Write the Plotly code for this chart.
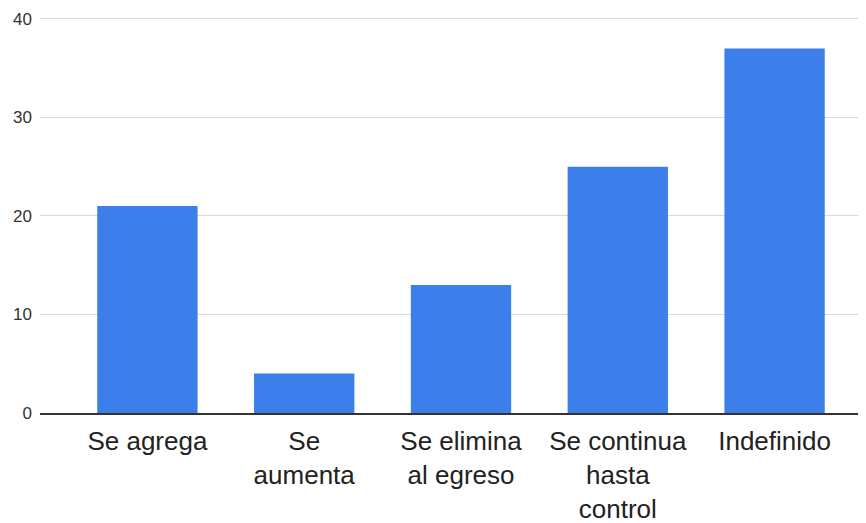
import plotly.graph_objects as go

categories = ["Se agrega", "Se<br>aumenta", "Se elimina<br>al egreso", "Se continua<br>hasta<br>control", "Indefinido"]
values = [21, 4, 13, 25, 37]
y_ticks = [0, 10, 20, 30, 40]

fig = go.Figure(go.Bar(
    x=list(range(len(categories))), y=values,
    marker=dict(color="#3d7fea", line=dict(width=0)),
    width=0.64,
))

# the page body adds an 8px offset, so the figure is sized to fill the window
fig.update_layout(
    width=858, height=515,
    margin=dict(l=32, r=0, t=6, b=110),
    paper_bgcolor="white", plot_bgcolor="white",
    font=dict(family="Liberation Sans, Arial, sans-serif", color="#222222"),
    showlegend=False,
)
fig.update_xaxes(
    tickmode="array", tickvals=list(range(len(categories))), ticktext=categories,
    range=[-0.685, 4.583], automargin=False,
    showgrid=False, zeroline=False,
    showline=True, linecolor="#333333", linewidth=2,
    ticks="", tickfont=dict(size=26, color="#222222"),
    ticklabelstandoff=4,
)
fig.update_yaxes(
    range=[0, 40.5], tickvals=y_ticks, automargin=False,
    showgrid=True, gridcolor="#d9d9d9", gridwidth=1,
    zeroline=False, showline=False,
    ticks="", tickfont=dict(size=17, color="#333333"),
    ticklabelstandoff=7,
)

fig.write_html("out.html")
